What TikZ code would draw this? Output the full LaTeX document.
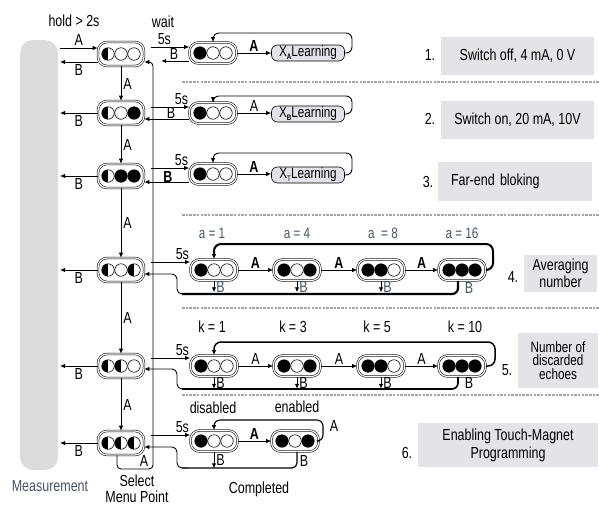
\documentclass[tikz,border=0pt]{standalone}
\usepackage{fontspec}
\setmainfont{Liberation Sans}[FakeStretch=0.78]
\usetikzlibrary{arrows.meta}
\definecolor{bargray}{RGB}{220,220,220}
\definecolor{infogray}{RGB}{228,228,232}
\definecolor{learngray}{RGB}{226,226,232}
\definecolor{slate}{RGB}{70,85,100}
\definecolor{dashgray}{RGB}{165,165,165}
\newcommand\threeled[4]{%
  \node[led#2] (#1a) at ([xshift=-13pt]#1.center) {};
  \node[led#3] (#1b) at (#1.center) {};
  \node[led#4] (#1c) at ([xshift=13pt]#1.center) {};
}
\begin{document}
\begin{tikzpicture}[x=1pt,y=-1pt,font=\fontsize{16}{18}\selectfont,
  arr/.style={-{Latex[length=5pt,width=4.5pt]},line width=0.9pt},
  bar/.style={fill=bargray,rounded corners=13pt,minimum width=38pt,minimum height=430pt,inner sep=0pt,outer sep=2pt},
  menubox/.style={draw,double,double distance=1.2pt,line width=0.55pt,rounded corners=9pt,minimum width=46pt,minimum height=24pt,inner sep=0pt},
  subbox/.style={menubox,minimum width=47pt,minimum height=21pt},
  learnbox/.style={draw,fill=learngray,rounded corners=6pt,minimum width=73pt,minimum height=16pt,inner sep=0pt,line width=0.6pt,font=\fontsize{15}{16}\selectfont},
  ledE/.style={circle,draw,line width=0.6pt,minimum size=12.5pt,inner sep=0pt},
  ledF/.style={ledE,fill=black},
  ledH/.style={ledE,path picture={\fill[black] (path picture bounding box.south west) rectangle (path picture bounding box.north);}},
  info/.style={fill=infogray,inner sep=0pt,align=center},
  sep/.style={draw=dashgray,line width=2pt,dash pattern=on 2.5pt off 1.2pt},
  lbl/.style={inner sep=0pt},
  small/.style={font=\fontsize{15}{16}\selectfont}]
\useasboundingbox (0,0) rectangle (599,507);

% measurement bar
\node[bar] (meas) at (39,255) {};
\node[lbl,text=slate] (measT) at (50,486) {Measurement};
\node[lbl] (selT) at (137,481) {Select};
\node[lbl] (menT) at (137,497) {Menu Point};
\node[lbl] (compT) at (259,489) {Completed};
\node[lbl] (holdT) at (74,21) {hold > 2s};
\node[lbl] (waitT) at (163,22) {wait};

% left menu nodes
\node[menubox] (L1) at (121,54) {}; \threeled{L1}{H}{E}{E}
\node[menubox] (L2) at (121,113) {}; \threeled{L2}{H}{E}{F}
\node[menubox] (L3) at (121,176) {}; \threeled{L3}{H}{F}{F}
\node[menubox] (L4) at (121,270) {}; \threeled{L4}{H}{E}{H}
\node[menubox] (L5) at (121,366) {}; \threeled{L5}{H}{H}{E}
\node[menubox] (L6) at (121,443) {}; \threeled{L6}{H}{H}{H}

\foreach \a/\b in {L1/L2,L2/L3,L3/L4,L4/L5,L5/L6}
  \draw[arr] (\a) -- (\b) node[midway,right,inner sep=2pt]{A};

% left arrows
\coordinate (Lin1) at ([yshift=6pt]L1.west);
\coordinate (Lout1) at ([yshift=-8pt]L1.west);
\draw[arr] (meas.east |- Lin1) -- (Lin1) node[midway,above,inner sep=2pt]{A};
\draw[arr] (Lout1) -- (meas.east |- Lout1) node[midway,below,inner sep=2pt]{B};
\foreach \n in {L2,L3,L4,L5,L6}
  \draw[arr] (\n.west) -- (meas.east |- \n.west) node[midway,below,inner sep=2pt]{B};

% return line to menu start
\coordinate (ret1) at ([yshift=-8pt]L1.east);
\draw[arr,rounded corners=4pt] ([xshift=-4pt]L6.south) |- (153,469) |- (ret1);
\node[lbl] (retA) at (144,461) {A};
\coordinate (vl) at (151,0);

% ---- row 1
\node[subbox] (R1) at (213,53) {}; \threeled{R1}{F}{E}{E}
\coordinate (R1in) at ([yshift=6pt]R1.west);
\coordinate (R1out) at ([yshift=-8pt]R1.west);
\draw[arr] (vl |- R1in) -- (R1in) node[pos=0.35,above,inner sep=2pt]{5s};
\draw[arr] (R1out) -- ++(-28,0);
\node[lbl] (R1B) at (174,54) {B};
\node[learnbox] (X1) at (308,53) {X\raisebox{-3pt}{\fontsize{8}{8}\selectfont\bfseries A}Learning};
\draw[arr] (R1) -- (X1) node[midway,above,inner sep=1.5pt]{\bfseries A};
\draw[arr,rounded corners=6pt] (X1.east) -| (352,33) -| (R1.north);

% ---- row 2
\node[subbox] (R2) at (213,113) {}; \threeled{R2}{F}{E}{E}
\coordinate (R2in) at ([yshift=6pt]R2.west);
\coordinate (R2out) at ([yshift=-6pt]R2.west);
\draw[arr] (vl |- R2in) -- (R2in) node[pos=0.8,above,inner sep=2pt]{5s};
\draw[arr] (R2out) -- (L2.east |- R2out);
\node[lbl] (R2B) at (171,113) {B};
\node[learnbox] (X2) at (308,114) {X\raisebox{-3pt}{\fontsize{8}{8}\selectfont\bfseries B}Learning};
\draw[arr] (R2) -- (R2 -| X2.west) node[midway,above,inner sep=1.5pt]{A};
\draw[arr,rounded corners=6pt] (X2.east) -| (352,96) -| (R2.north);

% ---- row 3
\node[subbox] (R3) at (213,174) {}; \threeled{R3}{F}{E}{E}
\coordinate (R3in) at ([yshift=6pt]R3.west);
\coordinate (R3out) at ([yshift=-8pt]R3.west);
\draw[arr] (vl |- R3in) -- (R3in) node[pos=0.8,above,inner sep=2pt]{5s};
\draw[arr] (R3out) -- (L3.east |- R3out);
\node[lbl] (R3B) at (168,177) {\bfseries B};
\node[learnbox] (X3) at (308,175) {X\raisebox{-3pt}{\fontsize{8}{8}\selectfont T}Learning};
\draw[arr] (R3) -- (R3 -| X3.west) node[midway,above,inner sep=1.5pt]{\bfseries A};
\draw[arr,rounded corners=6pt] (X3.east) -| (352,153) -| (R3.north);

% separators
\draw[sep] (182,82) -- (599,82);
\draw[sep] (182,215) -- (599,215);
\draw[sep] (182,308) -- (599,308);
\draw[sep] (182,395) -- (599,395);

% ---- row 4
\node[subbox] (P1) at (214,270) {}; \threeled{P1}{F}{E}{E}
\node[subbox] (P2) at (297,270) {}; \threeled{P2}{F}{E}{F}
\node[subbox] (P3) at (381,270) {}; \threeled{P3}{F}{F}{E}
\node[subbox] (P4) at (462,270) {}; \threeled{P4}{F}{F}{F}
\node[lbl,small,text=slate] (a1) at (212,233) {a = 1};
\node[lbl,small,text=slate] (a4) at (297,233) {a = 4};
\node[lbl,small,text=slate] (a8) at (383,233) {a \ = 8};
\node[lbl,small,text=slate] (a16) at (462,233) {a = 16};
\coordinate (P1in) at ([yshift=8pt]P1.west);
\draw[arr] (vl |- P1in) -- (P1in) node[pos=0.8,above,inner sep=2pt]{5s};
\draw[arr] (P1) -- (P2) node[midway,above,inner sep=1.5pt]{\bfseries A};
\draw[arr] (P2) -- (P3) node[midway,above,inner sep=1.5pt]{\bfseries A};
\draw[arr] (P3) -- (P4) node[midway,above,inner sep=1.5pt]{\bfseries A};
\draw[arr,line width=2pt,rounded corners=7pt] (P4.east) -| (493,244) -| (P1.north);
\draw[line width=2.2pt,rounded corners=6pt] ([xshift=-4pt]P4.south) |- (182,294);
\coordinate (k4) at (177,274);
\coordinate (ret4) at ([yshift=-4pt]L4.east);
\draw[arr,rounded corners=5pt] (188,294) -| (k4) -- (ret4);
\foreach \p in {P1,P2,P3}
  \draw[arr] (\p.south) -- ++(0,11.5) node[pos=0.55,right,inner sep=2pt,text=slate]{B};
\node[lbl,text=slate] (P4B) at (469,288) {B};

% ---- row 5
\node[subbox] (Q1) at (214,366) {}; \threeled{Q1}{F}{E}{E}
\node[subbox] (Q2) at (297,366) {}; \threeled{Q2}{F}{E}{F}
\node[subbox] (Q3) at (381,366) {}; \threeled{Q3}{F}{F}{E}
\node[subbox] (Q4) at (462,366) {}; \threeled{Q4}{F}{F}{F}
\node[lbl] (k1) at (212,327) {k = 1};
\node[lbl] (k3) at (293,327) {k = 3};
\node[lbl] (k5) at (377,327) {k = 5};
\node[lbl] (k10) at (465,327) {k = 10};
\coordinate (Q1in) at ([yshift=8pt]Q1.west);
\draw[arr] (vl |- Q1in) -- (Q1in) node[pos=0.8,above,inner sep=2pt]{5s};
\draw[arr] (Q1) -- (Q2) node[midway,above,inner sep=1.5pt]{A};
\draw[arr] (Q2) -- (Q3) node[midway,above,inner sep=1.5pt]{A};
\draw[arr] (Q3) -- (Q4) node[midway,above,inner sep=1.5pt]{A};
\draw[arr,line width=1.5pt,rounded corners=7pt] (Q4.east) -| (495,342) -| (Q1.north);
\draw[line width=1.6pt,rounded corners=6pt] ([xshift=-4pt]Q4.south) |- (182,389);
\coordinate (k5c) at (177,369);
\coordinate (ret5) at ([yshift=-3pt]L5.east);
\draw[arr,rounded corners=5pt] (188,389) -| (k5c) -- (ret5);
\foreach \p in {Q1,Q2,Q3}
  \draw[arr] (\p.south) -- ++(0,12) node[pos=0.55,right,inner sep=2pt]{B};
\node[lbl] (Q4B) at (469,383) {B};

% ---- row 6
\node[subbox] (S1) at (214,441) {}; \threeled{S1}{F}{E}{E}
\node[subbox] (S2) at (295,441) {}; \threeled{S2}{F}{E}{F}
\node[lbl] (disT) at (213,408) {disabled};
\node[lbl] (enT) at (297,407) {enabled};
\coordinate (S1in) at ([yshift=6pt]S1.west);
\draw[arr] (vl |- S1in) -- (S1in) node[pos=0.8,above,inner sep=2pt]{5s};
\draw[arr] (S1) -- (S2) node[midway,above,inner sep=1.5pt]{\bfseries A};
\draw[arr,line width=1.1pt,rounded corners=6pt] (S2.east) -| (323,420) -| (S1.north);
\node[lbl] (S2A) at (334,426) {A};
\draw[line width=1.2pt,rounded corners=5pt] ([xshift=2pt]S2.south) |- (182,468);
\coordinate (k6) at (177,447);
\coordinate (ret6) at ([yshift=-4pt]L6.east);
\draw[arr,rounded corners=5pt] (188,468) -| (k6) -- (ret6);
\draw[arr] (S1.south) -- ++(0,16.5) node[pos=0.5,right,inner sep=2pt]{B};
\node[lbl] (S2B) at (304,461) {B};

% ---- info boxes
\node[info,minimum width=153pt,minimum height=38pt] (B1) at (517.5,56) {Switch off, 4 mA, 0 V};
\node[lbl] (n1) at (430,55) {1.};
\node[info,minimum width=153pt,minimum height=38pt] (B2) at (517.5,120) {Switch on, 20 mA, 10V};
\node[lbl] (n2) at (430,119) {2.};
\node[info,minimum width=154pt,minimum height=39pt,inner xsep=13pt,text width=128pt,align=left] (B3) at (515,181.5) {Far-end bloking};
\node[lbl] (n3) at (428,182) {3.};
\node[info,minimum width=73pt,minimum height=37pt,font=\fontsize{16}{17}\selectfont] (B4) at (560.5,273.5) {Averaging\\number};
\node[lbl] (n4) at (513,277) {4.};
\node[info,minimum width=80pt,minimum height=55pt,font=\fontsize{15}{13.5}\selectfont] (B5) at (558,360.5) {Number of\\discarded\\echoes};
\node[lbl] (n5) at (507,370) {5.};
\node[info,minimum width=180pt,minimum height=44pt,font=\fontsize{16}{18}\selectfont] (B6) at (508,445) {Enabling Touch-Magnet\\Programming};
\node[lbl] (n6) at (407,453) {6.};
\end{tikzpicture}
\end{document}
